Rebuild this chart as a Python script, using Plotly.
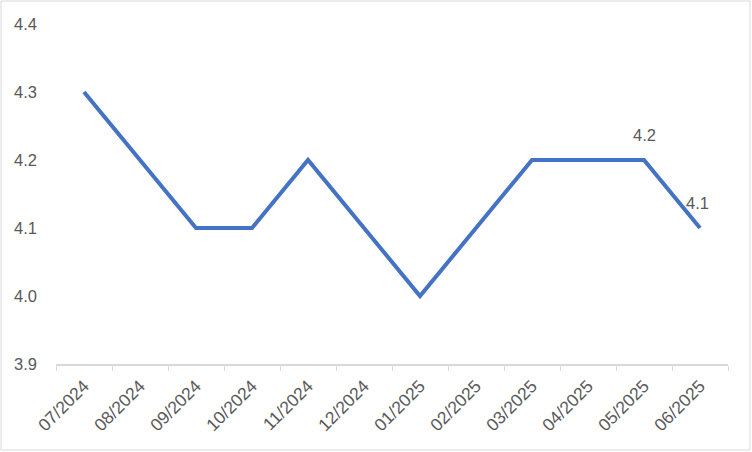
import plotly.graph_objects as go

months = ["07/2024", "08/2024", "09/2024", "10/2024", "11/2024", "12/2024",
          "01/2025", "02/2025", "03/2025", "04/2025", "05/2025", "06/2025"]
values = [4.3, 4.2, 4.1, 4.1, 4.2, 4.1, 4.0, 4.1, 4.2, 4.2, 4.2, 4.1]
labeled = ["05/2025", "06/2025"]
y_ticks = [3.9, 4.0, 4.1, 4.2, 4.3, 4.4]

FONT = "Liberation Sans"
GREY = "#595959"
FS = 16.5

fig = go.Figure()
fig.add_trace(go.Scatter(
    x=months, y=values, mode="lines",
    line=dict(color="#4472C4", width=4),
    hoverinfo="skip", showlegend=False,
))

for m in labeled:
    i = months.index(m)
    fig.add_annotation(
        x=m, y=values[i], text=f"{values[i]:.1f}", showarrow=False,
        yshift=25, xshift=-3 if i == len(months) - 1 else 0,
        font=dict(family=FONT, size=FS, color=GREY),
    )

W, H = 752, 452
L, R, T, B = 56, 24, 24, 88
pw, ph = W - L - R, H - T - B
fig.add_shape(
    type="rect", xref="paper", yref="paper",
    x0=(1 - L) / pw, x1=(W - 2 - L) / pw,
    y0=(H - B - (H - 2)) / ph, y1=(H - B - 1) / ph,
    line=dict(color="#d9d9d9", width=1), fillcolor="rgba(0,0,0,0)", layer="below",
)

fig.update_layout(
    width=W, height=H,
    margin=dict(l=L, r=R, t=T, b=B),
    paper_bgcolor="white", plot_bgcolor="white",
    font=dict(family=FONT, size=FS, color=GREY),
    xaxis=dict(
        type="category", categoryorder="array", categoryarray=months,
        tickangle=-45, showgrid=False, showline=True, linecolor="#d9d9d9", linewidth=2,
        ticks="outside", tickson="boundaries", ticklen=5, tickcolor="#d9d9d9",
        ticklabelstandoff=3,
        tickfont=dict(family=FONT, size=17.5, color=GREY), zeroline=False,
        range=[-0.5, len(months) - 0.5],
    ),
    yaxis=dict(
        range=[3.9, 4.4], tickvals=y_ticks, ticktext=[f"{v:.1f}" for v in y_ticks],
        showgrid=False, showline=False, zeroline=False, ticks="",
        ticklabelstandoff=18,
        tickfont=dict(family=FONT, size=FS, color=GREY),
    ),
)

fig.write_html(
    "out.html",
    config={"displayModeBar": False, "staticPlot": True},
    post_script="document.body.style.margin='0';document.body.style.padding='0';",
)
